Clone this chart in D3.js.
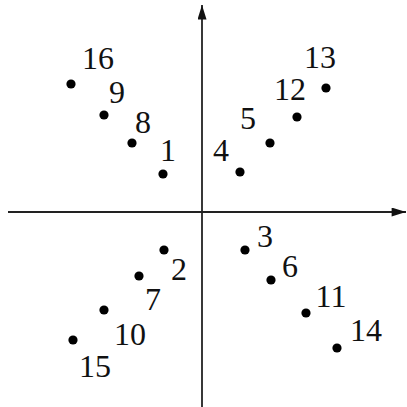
<!DOCTYPE html>
<html>
<head>
<meta charset="utf-8">
<script src="https://cdn.jsdelivr.net/npm/d3@7"></script>
<style>
  html, body { margin: 0; padding: 0; background: #fff; }
  svg { display: block; }
  .lbl { font-family: "Liberation Serif", "Times New Roman", Times, serif; font-size: 32px; fill: #111; }
</style>
</head>
<body>
<svg id="chart"></svg>
<script>
const W = 407, H = 407;

// point ids and coordinates (axis units)
const ids = [1, 2, 3, 4, 5, 6, 7, 8, 9, 10, 11, 12, 13, 14, 15, 16];
const xs = [-1.95, -1.9, 2.15, 1.9, 3.4, 3.45, -3.15, -3.5, -4.9, -4.9, 5.2, 4.75, 6.2, 6.75, -6.45, -6.55];
const ys = [1.9, -1.9, -1.9, 2.0, 3.45, -3.4, -3.2, 3.45, 4.85, -4.9, -5.05, 4.75, 6.2, -6.8, -6.4, 6.4];

// axis extents
const xDomain = [-9.7, 10.2];
const yDomain = [-9.75, 10.35];

// hand placed label nudges (px, centre / baseline relative to the dot)
const labelNudge = {
  1: [5, -13], 2: [15, 30], 3: [20, -3], 4: [-19, -11],
  5: [-22, -14], 6: [19, -3], 7: [14, 34], 8: [11, -10],
  9: [13, -12], 10: [26, 35], 11: [25, -6], 12: [-7, -17],
  13: [-6, -20], 14: [29, -7], 15: [22, 37], 16: [27, -15]
};

const points = ids.map((id, i) => ({ id, x: xs[i], y: ys[i] }));

const svg = d3.select("#chart").attr("width", W).attr("height", H);

const x = d3.scaleLinear().domain(xDomain).range([8, 406]);
const y = d3.scaleLinear().domain(yDomain).range([407, 5]);

// arrow head
const defs = svg.append("defs");
defs.append("marker")
  .attr("id", "arrow")
  .attr("viewBox", "0 0 16 10")
  .attr("refX", 16).attr("refY", 5)
  .attr("markerUnits", "userSpaceOnUse")
  .attr("markerWidth", 16).attr("markerHeight", 9)
  .attr("orient", "auto")
  .append("path")
  .attr("d", "M0,0 L16,5 L0,10 Z")
  .attr("fill", "#111");

// horizontal axis
svg.append("line")
  .attr("x1", x(xDomain[0])).attr("x2", x(xDomain[1]))
  .attr("y1", y(0)).attr("y2", y(0))
  .attr("stroke", "#222").attr("stroke-width", 1.8)
  .attr("marker-end", "url(#arrow)");

// vertical axis
svg.append("line")
  .attr("x1", x(0)).attr("x2", x(0))
  .attr("y1", y(yDomain[0])).attr("y2", y(yDomain[1]))
  .attr("stroke", "#222").attr("stroke-width", 1.8)
  .attr("marker-end", "url(#arrow)");

svg.append("g")
  .selectAll("circle")
  .data(points)
  .join("circle")
  .attr("cx", d => x(d.x))
  .attr("cy", d => y(d.y))
  .attr("r", 4.6)
  .attr("fill", "#000");

svg.append("g")
  .selectAll("text")
  .data(points)
  .join("text")
  .attr("class", "lbl")
  .attr("text-anchor", "middle")
  .attr("x", d => x(d.x) + labelNudge[d.id][0])
  .attr("y", d => y(d.y) + labelNudge[d.id][1])
  .text(d => d.id);
</script>
</body>
</html>
